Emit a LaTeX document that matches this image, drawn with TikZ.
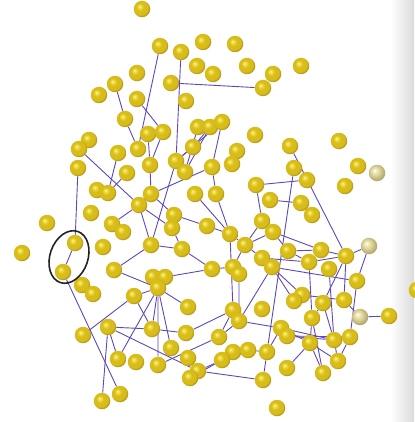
\documentclass[tikz,border=0pt]{standalone}
\usepackage{tikz}
\usetikzlibrary{shapes.geometric,backgrounds}

\definecolor{goldhi}{RGB}{252,246,175}
\definecolor{goldlt}{RGB}{240,224,72}
\definecolor{goldbase}{RGB}{216,189,26}
\definecolor{goldrim}{RGB}{158,128,16}
\definecolor{golddk}{RGB}{115,92,10}
\definecolor{palelt}{RGB}{240,234,190}
\definecolor{palebase}{RGB}{214,204,140}
\definecolor{palerim}{RGB}{165,155,105}
\definecolor{linkcol}{RGB}{92,72,188}
\definecolor{ringcol}{RGB}{35,35,35}

\pgfdeclareradialshading{goldball}{\pgfpoint{-8bp}{8bp}}{color(0bp)=(goldhi); color(4bp)=(goldlt); color(12bp)=(goldbase); color(22bp)=(goldbase); color(30bp)=(goldrim); color(50bp)=(golddk)}
\pgfdeclareradialshading{paleball}{\pgfpoint{-8bp}{8bp}}{color(0bp)=(white); color(6bp)=(palelt); color(16bp)=(palebase); color(30bp)=(palerim); color(50bp)=(palerim)}

\tikzset{
  ball/.style={circle, inner sep=0pt, minimum size=16.5pt, shading=goldball},
  faded/.style={circle, inner sep=0pt, minimum size=16.5pt, shading=paleball},
  link/.style={draw=linkcol, line width=0.9pt},
  ring/.style={draw=ringcol, ellipse, line width=1.6pt, minimum width=38pt, minimum height=54pt}
}

\begin{document}
\begin{tikzpicture}[x=1pt,y=-1pt]
\useasboundingbox (0,0) rectangle (414,422);
% spheres
\node[ball] (s1) at (142,9) {};
\node[ball] (s2) at (160,46) {};
\node[ball] (s3) at (181,52) {};
\node[ball] (s4) at (203,42) {};
\node[ball] (s5) at (235,44) {};
\node[ball] (s6) at (197,66) {};
\node[ball] (s7) at (213,74) {};
\node[ball] (s8) at (247,66) {};
\node[ball] (s9) at (273,74) {};
\node[ball] (s10) at (301,66) {};
\node[ball] (s11) at (263,88) {};
\node[ball] (s12) at (137,73) {};
\node[ball] (s13) at (115,84) {};
\node[ball] (s14) at (171,83) {};
\node[ball] (s15) at (99,95) {};
\node[ball] (s16) at (137,99) {};
\node[ball] (s17) at (186,101) {};
\node[ball] (s18) at (125,119) {};
\node[ball] (s19) at (198,127) {};
\node[ball] (s20) at (210,127) {};
\node[ball] (s21) at (222,122) {};
\node[ball] (s22) at (255,135) {};
\node[ball] (s23) at (89,140) {};
\node[ball] (s24) at (79,149) {};
\node[ball] (s25) at (148,134) {};
\node[ball] (s26) at (163,132) {};
\node[ball] (s27) at (138,149) {};
\node[ball] (s28) at (193,147) {};
\node[ball] (s29) at (237,151) {};
\node[ball] (s30) at (232,164) {};
\node[ball] (s31) at (290,146) {};
\node[ball] (s32) at (339,141) {};
\node[ball] (s33) at (118,153) {};
\node[ball] (s34) at (78,168) {};
\node[ball] (s35) at (150,165) {};
\node[ball] (s36) at (176,161) {};
\node[ball] (s37) at (185,172) {};
\node[ball] (s38) at (127,173) {};
\node[ball] (s39) at (212,167) {};
\node[ball] (s40) at (294,168) {};
\node[ball] (s41) at (358,166) {};
\node[faded] (s42) at (377,173) {};
\node[ball] (s43) at (307,180) {};
\node[ball] (s44) at (345,186) {};
\node[ball] (s45) at (256,185) {};
\node[ball] (s46) at (97,190) {};
\node[ball] (s47) at (108,193) {};
\node[ball] (s48) at (151,194) {};
\node[ball] (s49) at (195,194) {};
\node[ball] (s50) at (216,194) {};
\node[ball] (s51) at (270,200) {};
\node[ball] (s52) at (301,203) {};
\node[ball] (s53) at (139,205) {};
\node[ball] (s54) at (91,213) {};
\node[ball] (s55) at (174,215) {};
\node[ball] (s56) at (312,215) {};
\node[ball] (s57) at (47,223) {};
\node[ball] (s58) at (112,224) {};
\node[ball] (s59) at (123,232) {};
\node[ball] (s60) at (172,228) {};
\node[ball] (s61) at (207,226) {};
\node[ball] (s62) at (230,234) {};
\node[ball] (s63) at (262,221) {};
\node[ball] (s64) at (273,232) {};
\node[ball] (s65) at (75,243) {};
\node[ball] (s66) at (103,247) {};
\node[ball] (s67) at (151,245) {};
\node[ball] (s68) at (182,249) {};
\node[ball] (s69) at (245,245) {};
\node[ball] (s70) at (288,251) {};
\node[ball] (s71) at (321,250) {};
\node[ball] (s72) at (346,256) {};
\node[faded] (s73) at (369,246) {};
\node[ball] (s74) at (22,253) {};
\node[ball] (s75) at (262,258) {};
\node[ball] (s76) at (309,262) {};
\node[ball] (s77) at (63,272) {};
\node[ball] (s78) at (114,270) {};
\node[ball] (s79) at (153,277) {};
\node[ball] (s80) at (165,277) {};
\node[ball] (s81) at (212,269) {};
\node[ball] (s82) at (233,267) {};
\node[ball] (s83) at (239,274) {};
\node[ball] (s84) at (272,267) {};
\node[ball] (s85) at (329,269) {};
\node[ball] (s86) at (158,288) {};
\node[ball] (s87) at (82,285) {};
\node[ball] (s88) at (357,281) {};
\node[ball] (s89) at (93,294) {};
\node[ball] (s90) at (134,296) {};
\node[ball] (s91) at (302,295) {};
\node[ball] (s92) at (294,301) {};
\node[ball] (s93) at (323,303) {};
\node[ball] (s94) at (344,300) {};
\node[ball] (s95) at (188,307) {};
\node[ball] (s96) at (233,310) {};
\node[ball] (s97) at (262,309) {};
\node[ball] (s98) at (239,321) {};
\node[ball] (s99) at (312,318) {};
\node[faded] (s100) at (360,317) {};
\node[ball] (s101) at (389,316) {};
\node[ball] (s102) at (83,335) {};
\node[ball] (s103) at (108,327) {};
\node[ball] (s104) at (152,329) {};
\node[ball] (s105) at (186,333) {};
\node[ball] (s106) at (219,337) {};
\node[ball] (s107) at (281,328) {};
\node[ball] (s108) at (287,336) {};
\node[ball] (s109) at (310,343) {};
\node[ball] (s110) at (334,340) {};
\node[ball] (s111) at (350,337) {};
\node[ball] (s112) at (171,348) {};
\node[ball] (s113) at (233,352) {};
\node[ball] (s114) at (248,350) {};
\node[ball] (s115) at (267,352) {};
\node[ball] (s116) at (118,359) {};
\node[ball] (s117) at (136,362) {};
\node[ball] (s118) at (158,365) {};
\node[ball] (s119) at (188,358) {};
\node[ball] (s120) at (222,360) {};
\node[ball] (s121) at (338,361) {};
\node[ball] (s122) at (198,371) {};
\node[ball] (s123) at (190,378) {};
\node[ball] (s124) at (287,368) {};
\node[ball] (s125) at (323,373) {};
\node[ball] (s126) at (263,380) {};
\node[ball] (s127) at (120,394) {};
\node[ball] (s128) at (102,401) {};
\node[ball] (s129) at (277,408) {};
\node[ball] (s130) at (417,290) {};
% marked pair
\node[ring, rotate=-19] (pair) at (69,257) {};
% bonds
\begin{scope}[on background layer]
\shade[left color=white, right color=black!14] (390,0) rectangle (414,422);
\draw[link] (s2) -- (s27);
\draw[link] (s3) -- (s36);
\draw[link] (s14) -- (s11);
\draw[link] (s13) -- (s18) -- (s27);
\draw[link] (s16) -- (s26) -- (s35);
\draw[link] (s25) -- (s35) -- (s48);
\draw[link] (s24) -- (s53);
\draw[link] (s34) -- (s65);
\draw[link] (s33) -- (s47) -- (s38);
\draw[link] (s28) -- (s36) -- (s67);
\draw[link] (s19) -- (s37) -- (s20);
\draw[link] (s20) -- (s28);
\draw[link] (s21) -- (s36);
\draw[link] (s21) -- (s39);
\draw[link] (s39) -- (s48);
\draw[link] (s39) -- (s50) -- (s62);
\draw[link] (s49) -- (s62);
\draw[link] (s48) -- (s55) -- (s61);
\draw[link] (s53) -- (s60) -- (s68);
\draw[link] (s53) -- (s58);
\draw[link] (s53) -- (s67) -- (s68) -- (s81);
\draw[link] (s45) -- (s43);
\draw[link] (s45) -- (s63);
\draw[link] (s51) -- (s52);
\draw[link] (s31) -- (s72);
\draw[link] (s40) -- (s115) -- (s126);
\draw[link] (s65) -- (s77) -- (s127);
\draw[link] (s103) -- (s128);
\draw[link] (s102) -- (s90) -- (s86);
\draw[link] (s78) -- (s67);
\draw[link] (s78) -- (s86);
\draw[link] (s80) -- (s81) -- (s82);
\draw[link] (s86) -- (s104);
\draw[link] (s86) -- (s118) -- (s106);
\draw[link] (s86) -- (s112);
\draw[link] (s86) -- (s95);
\draw[link] (s86) -- (s116) -- (s103);
\draw[link] (s90) -- (s104);
\draw[link] (s103) -- (s104) -- (s105) -- (s96);
\draw[link] (s103) -- (s122) -- (s126);
\draw[link] (s62) -- (s96) -- (s106);
\draw[link] (s83) -- (s98) -- (s84);
\draw[link] (s98) -- (s107);
\draw[link] (s106) -- (s98);
\draw[link] (s84) -- (s92);
\draw[link] (s84) -- (s91);
\draw[link] (s75) -- (s76) -- (s72);
\draw[link] (s70) -- (s71) -- (s72) -- (s73) -- (s88);
\draw[link] (s64) -- (s71);
\draw[link] (s70) -- (s76);
\draw[link] (s72) -- (s94) -- (s100) -- (s101);
\draw[link] (s72) -- (s93) -- (s99);
\draw[link] (s85) -- (s110);
\draw[link] (s93) -- (s110);
\draw[link] (s76) -- (s99) -- (s109);
\draw[link] (s99) -- (s125);
\draw[link] (s84) -- (s88) -- (s111);
\draw[link] (s91) -- (s94);
\draw[link] (s107) -- (s109) -- (s121) -- (s111);
\draw[link] (s108) -- (s110) -- (s121);
\draw[link] (s107) -- (s110);
\draw[link] (s108) -- (s111);
\draw[link] (s124) -- (s109) -- (s125);
\draw[link] (s115) -- (s107);
\draw[link] (s113) -- (s114) -- (s115);
\draw[link] (s120) -- (s122);
\draw[link] (s123) -- (s120);
\draw[link] (s62) -- (s69) -- (s63) -- (s64) -- (s69);
\draw[link] (s64) -- (s70);
\draw[link] (s82) -- (s69) -- (s75) -- (s84);
\draw[link] (s61) -- (s62);
\end{scope}
\end{tikzpicture}
\end{document}
